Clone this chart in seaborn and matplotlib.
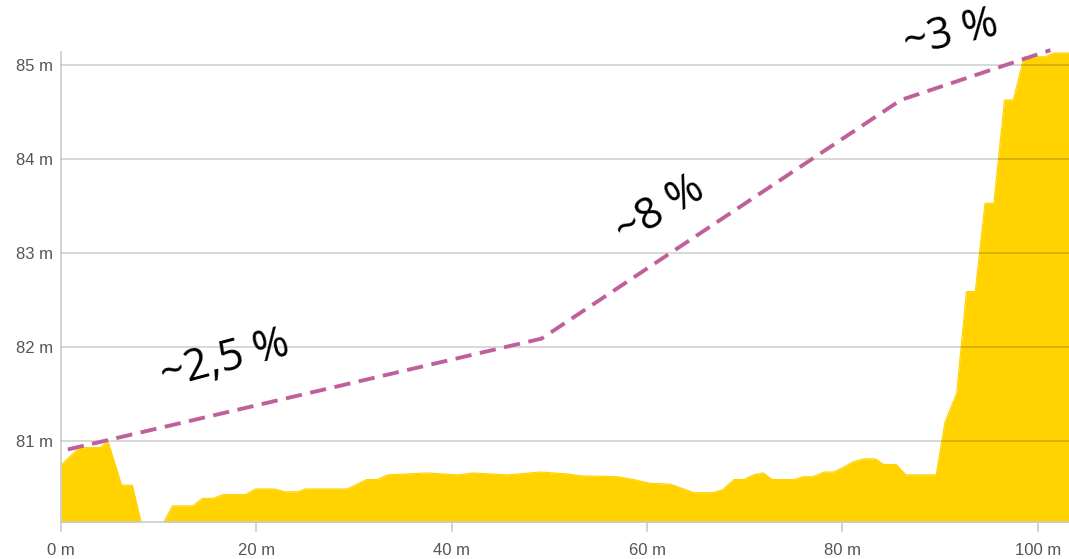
import numpy as np
import pandas as pd
import matplotlib
matplotlib.use("Agg")
import matplotlib.pyplot as plt
import seaborn as sns


# ELEVATION PROFILE

dist_m = [0, 1.9, 4.0, 4.8, 6.2, 7.3, 8.2, 10.5, 11.4, 13.5, 14.5, 15.6, 16.6, 18.9,
          19.9, 21.8, 22.9, 24.3, 25.0, 29.3, 31.3, 32.4, 33.4, 37.5, 40.6, 42.2,
          45.7, 49.1, 51.8, 53.2, 57.0, 58.6, 60.3, 62.4, 64.8, 66.7, 67.7, 68.9,
          69.9, 70.9, 71.9, 72.8, 75.0, 76.0, 77.0, 78.1, 79.1, 80.1, 81.1, 82.2,
          83.4, 84.2, 85.5, 86.5, 89.6, 90.5, 91.7, 92.7, 93.6, 94.6, 95.5, 96.6,
          97.5, 98.6, 100.8, 101.6, 103.3]
elev_m = [80.745, 80.93, 80.93, 81.0, 80.53, 80.53, 80.13, 80.13, 80.31, 80.31, 80.39,
          80.39, 80.43, 80.43, 80.49, 80.49, 80.46, 80.46, 80.49, 80.49, 80.59, 80.59,
          80.64, 80.66, 80.64, 80.66, 80.64, 80.67, 80.65, 80.63, 80.62, 80.59, 80.55,
          80.54, 80.45, 80.45, 80.48, 80.59, 80.59, 80.64, 80.66, 80.59, 80.59, 80.62,
          80.62, 80.67, 80.67, 80.72, 80.78, 80.81, 80.81, 80.75, 80.75, 80.64, 80.64,
          81.2, 81.51, 82.59, 82.59, 83.53, 83.53, 84.63, 84.63, 85.09, 85.09, 85.13,
          85.13]

# dashed gradient line
slope_x = [0.7, 49.2, 86.0, 101.3]
slope_y = [80.91, 82.09, 84.63, 85.16]

slope_labels = ["~2,5 %", "~8 %", "~3 %"]
label_x = [16.8, 61.4, 91.1]
label_y = [81.86, 83.45, 85.33]
label_rot = [15, 31, 13]

x_ticks = [0, 20, 40, 60, 80, 100]
y_ticks = [81, 82, 83, 84, 85]

profile = pd.DataFrame({"dist": dist_m, "elev": elev_m})
slope = pd.DataFrame({"dist": slope_x, "elev": slope_y})


# PLOT

sns.set_style("white")
plt.rcParams["font.family"] = ["Liberation Sans", "DejaVu Sans"]

fig = plt.figure(figsize=(10.69, 5.59), dpi=100)
ax = fig.add_axes([61 / 1069, 1 - 522 / 559, 1008 / 1069, 470 / 559])

ax.fill_between(profile["dist"], profile["elev"], 79.5, color="#FFD200", lw=0, zorder=1)
sns.lineplot(data=profile, x="dist", y="elev", color="#FFD200", lw=0.8, ax=ax, zorder=1)
sns.lineplot(data=slope, x="dist", y="elev", color="#C0609A", lw=2.8, ax=ax,
             dashes=False, zorder=4, clip_on=False)
ax.lines[-1].set_dashes([4.2, 2.2])

for txt, tx, ty, rot in zip(slope_labels, label_x, label_y, label_rot):
    ax.text(tx, ty, txt, rotation=rot, ha="center", va="center", fontsize=31,
            family=["Open Sans", "DejaVu Sans"], color="black",
            rotation_mode="anchor", clip_on=False, zorder=5)

ax.set_xlim(0, 103.2)
ax.set_ylim(80.138, 85.14)
ax.set_xticks(x_ticks)
ax.set_xticklabels([f"{t} m" for t in x_ticks])
ax.set_yticks(y_ticks)
ax.set_yticklabels([f"{t} m" for t in y_ticks])
ax.set_xlabel("")
ax.set_ylabel("")

ax.set_axisbelow(False)
ax.yaxis.grid(True, color="black", alpha=0.18, lw=1.2, zorder=3)
ax.xaxis.grid(False)

for side in ["top", "right"]:
    ax.spines[side].set_visible(False)
for side in ["left", "bottom"]:
    ax.spines[side].set_color("#cccccc")
    ax.spines[side].set_linewidth(1.2)

ax.tick_params(axis="y", length=0, pad=6, labelsize=12, labelcolor="#555555")
ax.tick_params(axis="x", length=7, width=1.2, color="#cccccc", direction="out",
               pad=8, labelsize=12, labelcolor="#555555", bottom=True)

fig.savefig("out.png", dpi=100)
plt.close()
